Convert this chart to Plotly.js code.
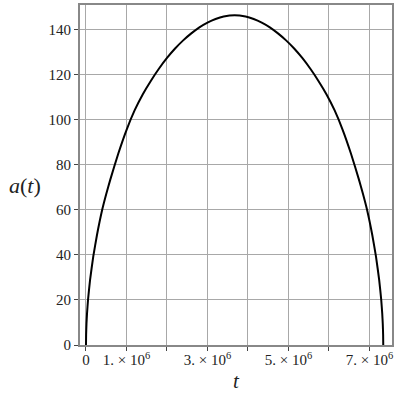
<!DOCTYPE html>
<html>
<head>
<meta charset="utf-8">
<script src="https://cdn.plot.ly/plotly-3.0.1.min.js"></script>
<style>
  html, body { margin: 0; padding: 0; background: #fff; }
  #plot { width: 400px; height: 400px; }
</style>
</head>
<body>
<div id="plot"></div>
<script>
// curve a(t)
var tVals = [0, 0.003e6, 0.012e6, 0.025e6, 0.05e6, 0.1e6, 0.18e6, 0.27e6, 0.4e6, 0.5e6,
  0.6e6, 0.8e6, 1.0e6, 1.2e6, 1.4e6, 1.6e6, 1.8e6, 2.0e6, 2.2e6, 2.4e6,
  2.6e6, 2.8e6, 3.0e6, 3.2e6, 3.4e6, 3.67e6,
  3.94e6, 4.14e6, 4.34e6, 4.54e6, 4.74e6, 4.94e6, 5.14e6, 5.34e6, 5.54e6, 5.74e6,
  5.94e6, 6.14e6, 6.34e6, 6.54e6, 6.74e6, 6.84e6, 6.94e6, 7.07e6, 7.16e6, 7.24e6,
  7.29e6, 7.315e6, 7.328e6, 7.337e6, 7.34e6];
var aVals = [0, 4.5, 9.4, 13.9, 20, 28.8, 39.3, 48.7, 60, 67,
  73.4, 85.1, 95.4, 104.1, 111.2, 117.2, 122.6, 127.4, 131.6, 135.2,
  138.3, 141, 143.1, 144.7, 145.8, 146.4,
  145.8, 144.7, 143.1, 141, 138.3, 135.2, 131.6, 127.4, 122.6, 117.2,
  111.2, 104.1, 95.4, 85.1, 73.4, 67, 60, 48.7, 39.3, 28.8,
  20, 13.9, 9.4, 4.5, 0];

var xTickVals = [0, 1e6, 3e6, 5e6, 7e6];
var xTickText = ['0', '1. × 10<sup>6</sup>', '3. × 10<sup>6</sup>',
  '5. × 10<sup>6</sup>', '7. × 10<sup>6</sup>'];
var yTickVals = [0, 20, 40, 60, 80, 100, 120, 140];

var serif = '"Liberation Serif", "Times New Roman", serif';
var tickFont = {family: serif, size: 15, color: '#222'};

var trace = {
  x: tVals,
  y: aVals,
  mode: 'lines',
  type: 'scatter',
  line: {color: '#000', width: 2, shape: 'spline', smoothing: 0.5},
  hoverinfo: 'skip'
};

var layout = {
  width: 400,
  height: 400,
  margin: {l: 80, r: 8, t: 5, b: 55},
  paper_bgcolor: '#fff',
  plot_bgcolor: '#fff',
  showlegend: false,
  xaxis: {
    range: [-0.148e6, 7.556e6],
    tickmode: 'array',
    tickvals: xTickVals,
    ticktext: xTickText,
    ticks: 'outside',
    ticklen: 4,
    tickcolor: '#444',
    tickfont: tickFont,
    ticklabelstandoff: -4,
    showgrid: true,
    gridcolor: '#a8a8a8',
    gridwidth: 1,
    minor: {tick0: 0, dtick: 1e6, ticks: 'outside', ticklen: 4, tickcolor: '#444',
      showgrid: true, gridcolor: '#a8a8a8', gridwidth: 1},
    zeroline: false,
    showline: true,
    linecolor: '#888',
    linewidth: 2,
    mirror: true,
    title: {text: '<i>t</i>', font: {family: serif, size: 21, color: '#222'}, standoff: 6}
  },
  yaxis: {
    range: [0, 150.9],
    tickmode: 'array',
    tickvals: yTickVals,
    ticks: 'outside',
    ticklen: 4,
    tickcolor: '#444',
    tickfont: tickFont,
    showgrid: true,
    gridcolor: '#a8a8a8',
    gridwidth: 1,
    zeroline: false,
    showline: true,
    linecolor: '#888',
    linewidth: 2,
    mirror: true
  },
  annotations: [{
    text: '<i>a</i>(<i>t</i>)',
    xref: 'paper', yref: 'paper',
    x: -0.175, y: 0.47,
    xanchor: 'center', yanchor: 'middle',
    showarrow: false,
    font: {family: serif, size: 22, color: '#222'}
  }]
};

Plotly.newPlot('plot', [trace], layout, {displayModeBar: false, staticPlot: true});
</script>
</body>
</html>
